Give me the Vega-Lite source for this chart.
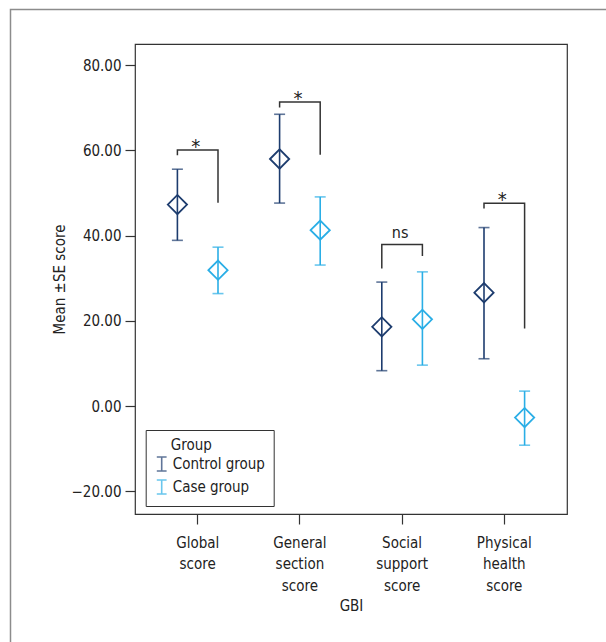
{
  "$schema": "https://vega.github.io/schema/vega-lite/v6.json",
  "width": 432,
  "height": 470,
  "autosize": {"type": "none"},
  "padding": {"left": 135, "top": 44, "right": 39, "bottom": 128},
  "background": "white",
  "datasets": {
    "frame": [{"x0": 0, "x1": 1, "y0": 0, "y1": 1}],
    "stats": [
      {"gbi": "Global score", "group": "Control group", "mean": 47.3, "lo": 38.9, "hi": 55.6},
      {"gbi": "Global score", "group": "Case group", "mean": 31.9, "lo": 26.4, "hi": 37.3},
      {"gbi": "General section score", "group": "Control group", "mean": 58.0, "lo": 47.65, "hi": 68.5},
      {"gbi": "General section score", "group": "Case group", "mean": 41.3, "lo": 33.1, "hi": 49.1},
      {"gbi": "Social support score", "group": "Control group", "mean": 18.6, "lo": 8.3, "hi": 29.1},
      {"gbi": "Social support score", "group": "Case group", "mean": 20.35, "lo": 9.6, "hi": 31.5},
      {"gbi": "Physical health score", "group": "Control group", "mean": 26.6, "lo": 11.1, "hi": 41.9},
      {"gbi": "Physical health score", "group": "Case group", "mean": -2.7, "lo": -9.2, "hi": 3.5}
    ],
    "brackets": [
      {"gbi": "Global score", "group": "Control group", "y": 58.9, "seq": 1},
      {"gbi": "Global score", "group": "Control group", "y": 60.1, "seq": 2},
      {"gbi": "Global score", "group": "Case group", "y": 60.1, "seq": 3},
      {"gbi": "Global score", "group": "Case group", "y": 47.7, "seq": 4},
      {"gbi": "General section score", "group": "Control group", "y": 70.1, "seq": 1},
      {"gbi": "General section score", "group": "Control group", "y": 71.4, "seq": 2},
      {"gbi": "General section score", "group": "Case group", "y": 71.4, "seq": 3},
      {"gbi": "General section score", "group": "Case group", "y": 59.0, "seq": 4},
      {"gbi": "Social support score", "group": "Control group", "y": 32.3, "seq": 1},
      {"gbi": "Social support score", "group": "Control group", "y": 37.95, "seq": 2},
      {"gbi": "Social support score", "group": "Case group", "y": 37.95, "seq": 3},
      {"gbi": "Social support score", "group": "Case group", "y": 35.2, "seq": 4},
      {"gbi": "Physical health score", "group": "Control group", "y": 46.4, "seq": 1},
      {"gbi": "Physical health score", "group": "Control group", "y": 47.6, "seq": 2},
      {"gbi": "Physical health score", "group": "Case group", "y": 47.6, "seq": 3},
      {"gbi": "Physical health score", "group": "Case group", "y": 18.2, "seq": 4}
    ],
    "labels": [
      {"gbi": "Global score", "y": 60.1, "sig": "*"},
      {"gbi": "General section score", "y": 71.4, "sig": "*"},
      {"gbi": "Social support score", "y": 37.95, "sig": "ns"},
      {"gbi": "Physical health score", "y": 47.6, "sig": "*"}
    ]
  },
  "resolve": {"scale": {"x": "independent", "y": "independent"}},
  "layer": [
    {
      "data": {"name": "frame"},
      "mark": {"type": "rect", "fill": null, "stroke": "#8c8c8c", "strokeWidth": 1.5, "clip": false},
      "encoding": {
        "x": {"field": "x0", "type": "quantitative", "axis": null, "scale": {"domain": [0.20562, 0.91908], "nice": false, "zero": false}},
        "x2": {"field": "x1"},
        "y": {"field": "y0", "type": "quantitative", "axis": null, "scale": {"domain": [0.21479, 0.94631], "nice": false, "zero": false}},
        "y2": {"field": "y1"}
      }
    },
    {
      "encoding": {
        "x": {
          "field": "gbi",
          "type": "nominal",
          "sort": ["Global score", "General section score", "Social support score", "Physical health score"],
          "scale": {"type": "band", "paddingInner": 0, "paddingOuter": 0.1135},
          "axis": {
            "title": "GBI",
            "labelAngle": 0,
            "labelExpr": "split(datum.label, ' ')",
            "labelLineHeight": 21.5,
            "labelPadding": 11,
            "titlePadding": 5
          }
        },
        "y": {
          "type": "quantitative",
          "scale": {"domain": [-25.35, 85], "nice": false, "zero": false},
          "axis": {
            "title": "Mean ±SE score",
            "values": [-20, 0, 20, 40, 60, 80],
            "format": ".2f",
            "labelPadding": 4,
            "titlePadding": 4
          }
        }
      },
      "layer": [
        {
          "mark": {"type": "rule", "color": "#333333", "strokeWidth": 1.2},
          "encoding": {"y": {"datum": 0, "type": "quantitative"}, "x": null}
        },
        {
          "data": {"name": "brackets"},
          "mark": {"type": "line", "color": "#333333", "strokeWidth": 1.5},
          "encoding": {
            "xOffset": {"field": "group", "type": "nominal"},
            "y": {"field": "y", "type": "quantitative"},
            "detail": {"field": "gbi"},
            "order": {"field": "seq", "type": "quantitative"}
          }
        },
        {
          "data": {"name": "labels"},
          "transform": [{"filter": "datum.sig == '*'"}],
          "mark": {"type": "text", "fontSize": 20, "dy": 3, "dx": -2, "baseline": "alphabetic", "color": "#222"},
          "encoding": {
            "y": {"field": "y", "type": "quantitative"},
            "text": {"field": "sig"}
          }
        },
        {
          "data": {"name": "labels"},
          "transform": [{"filter": "datum.sig == 'ns'"}],
          "mark": {"type": "text", "fontSize": 16, "dy": -6, "dx": -2, "baseline": "alphabetic", "color": "#222"},
          "encoding": {
            "y": {"field": "y", "type": "quantitative"},
            "text": {"field": "sig"}
          }
        },
        {
          "data": {"name": "stats"},
          "mark": {"type": "rule", "strokeWidth": 1.6},
          "encoding": {
            "xOffset": {"field": "group", "type": "nominal"},
            "y": {"field": "lo", "type": "quantitative"},
            "y2": {"field": "hi"},
            "color": {"field": "group", "type": "nominal"}
          }
        },
        {
          "data": {"name": "stats"},
          "mark": {"type": "tick", "size": 11, "thickness": 1.6},
          "encoding": {
            "xOffset": {"field": "group", "type": "nominal"},
            "y": {"field": "lo", "type": "quantitative"},
            "color": {"field": "group", "type": "nominal"}
          }
        },
        {
          "data": {"name": "stats"},
          "mark": {"type": "tick", "size": 11, "thickness": 1.6},
          "encoding": {
            "xOffset": {"field": "group", "type": "nominal"},
            "y": {"field": "hi", "type": "quantitative"},
            "color": {"field": "group", "type": "nominal"}
          }
        },
        {
          "data": {"name": "stats"},
          "mark": {"type": "point", "shape": "diamond", "filled": false, "size": 370, "strokeWidth": 1.8, "opacity": 1},
          "encoding": {
            "xOffset": {
              "field": "group",
              "type": "nominal",
              "sort": ["Control group", "Case group"],
              "scale": {"type": "point", "domain": ["Control group", "Case group"], "padding": 0.7586}
            },
            "y": {"field": "mean", "type": "quantitative"},
            "color": {
              "field": "group",
              "type": "nominal",
              "scale": {"domain": ["Control group", "Case group"], "range": ["#1d3c6e", "#2aaee6"]},
              "legend": {
                "orient": "none",
                "legendX": 10.7,
                "legendY": 386,
                "title": "\u200b\u00a0\u00a0\u00a0\u00a0Group",
                "symbolType": "M-0.7,-1H0.7M0,-1V1M-0.7,1H0.7",
                "symbolSize": 196,
                "symbolStrokeWidth": 1.6,
                "symbolFillColor": "transparent",
                "strokeColor": "#333333",
                "padding": 8,
                "labelOffset": 3,
                "rowPadding": 1,
                "titlePadding": 3
              }
            }
          }
        }
      ]
    }
  ],
  "config": {
    "font": "DejaVu Sans Condensed, sans-serif",
    "view": {"stroke": "#333333", "strokeWidth": 1.2},
    "axis": {
      "labelFont": "DejaVu Sans Condensed, sans-serif",
      "titleFont": "DejaVu Sans Condensed, sans-serif",
      "labelFontSize": 15,
      "titleFontSize": 15,
      "titleFontWeight": "normal",
      "labelColor": "#222222",
      "titleColor": "#222222",
      "tickColor": "#333333",
      "tickSize": 10,
      "tickWidth": 1.2,
      "domain": false,
      "grid": false
    },
    "legend": {
      "labelFont": "DejaVu Sans Condensed, sans-serif",
      "titleFont": "DejaVu Sans Condensed, sans-serif",
      "labelFontSize": 15,
      "titleFontSize": 15,
      "titleFontWeight": "normal",
      "labelColor": "#222222",
      "titleColor": "#222222"
    },
    "text": {"font": "DejaVu Sans Condensed, sans-serif"}
  }
}
